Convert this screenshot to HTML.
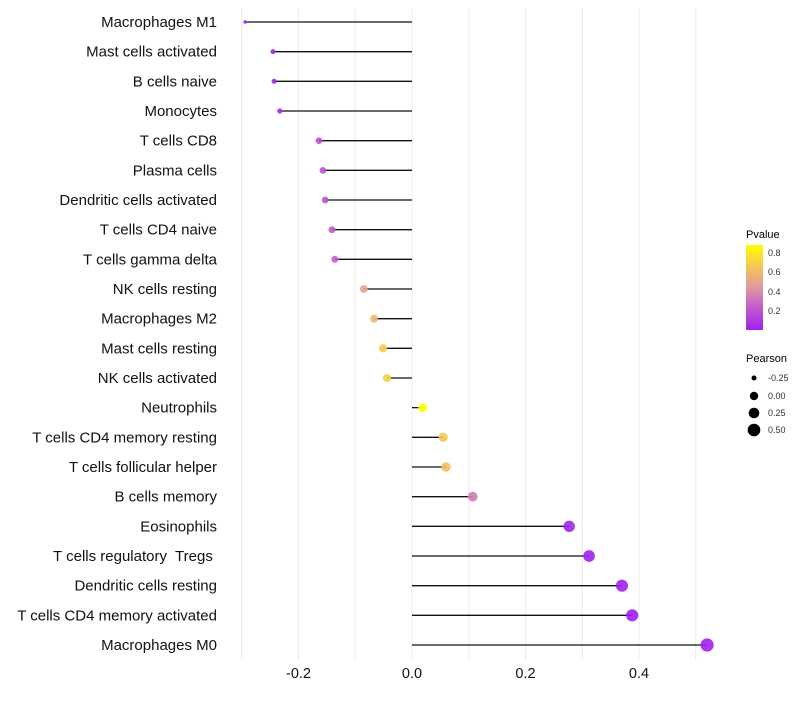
<!DOCTYPE html>
<html><head><meta charset="utf-8"><style>
body{margin:0;background:#fff;}
svg text{font-family:"Liberation Sans",sans-serif;white-space:pre;}
</style></head><body>
<svg id="chart" width="800" height="700" xmlns="http://www.w3.org/2000/svg">
<defs>
<linearGradient id="pg" x1="0" y1="1" x2="0" y2="0">
<stop offset="0" stop-color="#a020f0"/><stop offset="0.28" stop-color="#c460c8"/><stop offset="0.5" stop-color="#e09aa0"/><stop offset="0.72" stop-color="#f3c060"/><stop offset="1" stop-color="#ffff00"/>
</linearGradient>
</defs>
<g id="grid"></g><g id="marks"></g><g id="labels"></g>
<g>
<text x="746" y="238" font-size="11">Pvalue</text>
<rect x="746" y="245" width="17" height="85" fill="url(#pg)"/>
<g font-size="9" fill="#333">
<text x="768" y="256">0.8</text><text x="768" y="275">0.6</text><text x="768" y="295">0.4</text><text x="768" y="314">0.2</text>
</g>
</g>
<g font-size="9" fill="#333">
<text x="746" y="362" font-size="11" fill="#000">Pearson</text>
<circle cx="754" cy="378" r="2.5" fill="#000"/><text x="768" y="381">-0.25</text>
<circle cx="754" cy="396" r="4.2" fill="#000"/><text x="768" y="399">0.00</text>
<circle cx="754" cy="413" r="5.3" fill="#000"/><text x="768" y="416">0.25</text>
<circle cx="754" cy="430" r="6.3" fill="#000"/><text x="768" y="433">0.50</text>
</g>
</svg>
<script>
const categories=["Macrophages M1","Mast cells activated","B cells naive","Monocytes","T cells CD8","Plasma cells","Dendritic cells activated","T cells CD4 naive","T cells gamma delta","NK cells resting","Macrophages M2","Mast cells resting","NK cells activated","Neutrophils","T cells CD4 memory resting","T cells follicular helper","B cells memory","Eosinophils","T cells regulatory  Tregs ","Dendritic cells resting","T cells CD4 memory activated","Macrophages M0"];
const pearson=[-0.294,-0.245,-0.243,-0.233,-0.164,-0.157,-0.153,-0.141,-0.136,-0.085,-0.067,-0.051,-0.044,0.019,0.055,0.060,0.107,0.277,0.312,0.370,0.388,0.520];
const pvalue=[0.02,0.03,0.03,0.04,0.18,0.2,0.21,0.24,0.25,0.5,0.6,0.7,0.72,0.9,0.68,0.65,0.35,0.01,0.005,0.001,0.001,0.0005];
const xTicks=[-0.2,0.0,0.2,0.4];
const xTickLabels=["-0.2","0.0","0.2","0.4"];
const xGrid=[-0.3,-0.2,-0.1,0,0.1,0.2,0.3,0.4,0.5];
const ns="http://www.w3.org/2000/svg";
const x=v=>412+v*567.5;
const y=i=>22+i*(623/21);
const rad=v=>0.8+Math.sqrt(Math.max(0.5,1+40*(v+0.294)));
const stops=[[0,[160,32,240]],[0.25,[196,96,200]],[0.45,[224,154,160]],[0.65,[243,192,96]],[0.9,[255,255,0]]];
function col(p){p=Math.min(0.9,Math.max(0,p));for(let k=1;k<stops.length;k++){if(p<=stops[k][0]){const a=stops[k-1],b=stops[k],t=(p-a[0])/(b[0]-a[0]);return 'rgb('+a[1].map((c,j)=>Math.round(c+(b[1][j]-c)*t)).join(',')+')';}}return 'rgb(255,255,0)';}
function mk(t,at,parent){const e=document.createElementNS(ns,t);for(const k in at)e.setAttribute(k,at[k]);parent.appendChild(e);return e;}
const G=document.getElementById('grid'),M=document.getElementById('marks'),L=document.getElementById('labels');
xGrid.forEach(v=>{const g=mk('line',{x1:x(v),x2:x(v),y1:8,y2:660,stroke:'#ececec','stroke-width':1},G);

});
xTicks.forEach((v,i)=>{const t=mk('text',{x:x(v),y:678,'text-anchor':'middle','font-size':14.5,fill:'#111'},L);t.textContent=xTickLabels[i];

});
categories.forEach((c,i)=>{
const t=mk('text',{x:217,y:y(i)+5,'text-anchor':'end','font-size':15,fill:'#111'},L);t.textContent=c;


const s=mk('line',{x1:x(0),x2:x(pearson[i]),y1:y(i),y2:y(i),stroke:'#111','stroke-width':1.3},M);


const d=mk('circle',{cx:x(pearson[i]),cy:y(i),r:rad(pearson[i]),fill:col(pvalue[i]),'fill-opacity':0.9},M);


});
</script>
</body></html>
